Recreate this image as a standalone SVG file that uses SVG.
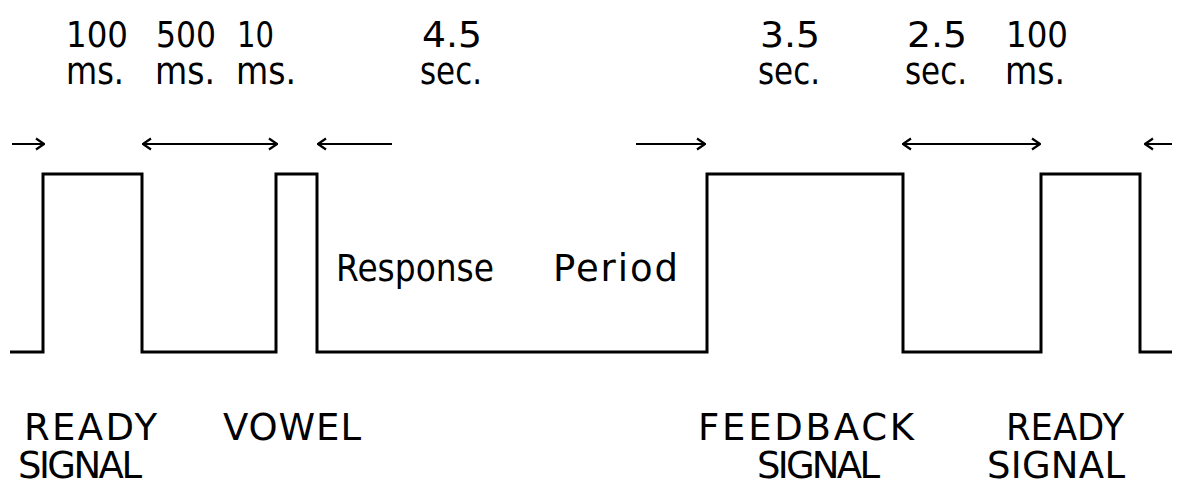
<svg xmlns="http://www.w3.org/2000/svg" width="1181" height="487" viewBox="0 0 1181 487">
<style>
text{font-family:"DejaVu Sans","Liberation Sans",sans-serif;fill:#000}
.d{font-size:36px}
.u{font-size:38px}
.c{font-size:37px}
.w{fill:none;stroke:#000;stroke-width:3;stroke-linejoin:miter}
.a{fill:none;stroke:#000;stroke-width:2}
</style>
<defs>
<marker id="h" viewBox="0 0 12 14" refX="11" refY="7" markerWidth="12" markerHeight="14" markerUnits="userSpaceOnUse" orient="auto-start-reverse">
<path d="M3,1.5 L11,7 L3,12.5" fill="none" stroke="#000" stroke-width="2.2"/>
</marker>
</defs>
<g id="durations">
<text class="d" x="66" y="47" textLength="62" lengthAdjust="spacingAndGlyphs">100</text>
<text class="u" x="66" y="84" textLength="58" lengthAdjust="spacingAndGlyphs">ms.</text>
<text class="d" x="156" y="47" textLength="60" lengthAdjust="spacingAndGlyphs">500</text>
<text class="u" x="155" y="84" textLength="60" lengthAdjust="spacingAndGlyphs">ms.</text>
<text class="d" x="237" y="47" textLength="37" lengthAdjust="spacingAndGlyphs">10</text>
<text class="u" x="236" y="84" textLength="60" lengthAdjust="spacingAndGlyphs">ms.</text>
<text class="d" x="422" y="47" textLength="60" lengthAdjust="spacingAndGlyphs">4.5</text>
<text class="u" x="420" y="84" textLength="62" lengthAdjust="spacingAndGlyphs">sec.</text>
<text class="d" x="760" y="47" textLength="60" lengthAdjust="spacingAndGlyphs">3.5</text>
<text class="u" x="758" y="84" textLength="62" lengthAdjust="spacingAndGlyphs">sec.</text>
<text class="d" x="907" y="47" textLength="60" lengthAdjust="spacingAndGlyphs">2.5</text>
<text class="u" x="905" y="84" textLength="62" lengthAdjust="spacingAndGlyphs">sec.</text>
<text class="d" x="1006" y="47" textLength="62" lengthAdjust="spacingAndGlyphs">100</text>
<text class="u" x="1005" y="84" textLength="60" lengthAdjust="spacingAndGlyphs">ms.</text>
</g>
<g id="connectors">
<line class="a" x1="12" y1="144" x2="44" y2="144" marker-end="url(#h)"/>
<line class="a" x1="143" y1="144" x2="277" y2="144" marker-start="url(#h)" marker-end="url(#h)"/>
<line class="a" x1="392" y1="144" x2="318" y2="144" marker-end="url(#h)"/>
<line class="a" x1="636" y1="144" x2="705" y2="144" marker-end="url(#h)"/>
<line class="a" x1="903" y1="144" x2="1040" y2="144" marker-start="url(#h)" marker-end="url(#h)"/>
<line class="a" x1="1172" y1="144" x2="1145" y2="144" marker-end="url(#h)"/>
</g>
<g id="waveform">
<polyline class="w" points="10,352 43,352 43,174 142,174 142,352 276,352 276,174 317,174 317,352 707,352 707,174 903,174 903,352 1041,352 1041,174 1140,174 1140,352 1172,352"/>
</g>
<g id="response-period"><text class="c" y="281"><tspan x="336" textLength="158" lengthAdjust="spacingAndGlyphs">Response</tspan><tspan x="553" textLength="125" lengthAdjust="spacing">Period</tspan></text></g>
<g id="ready-signal-1"><text class="c" x="24" y="440" textLength="133" lengthAdjust="spacing">READY</text><text class="c" x="18" y="478" textLength="124" lengthAdjust="spacing">SIGNAL</text></g>
<g id="vowel"><text class="c" x="223" y="440" textLength="138" lengthAdjust="spacing">VOWEL</text></g>
<g id="feedback-signal"><text class="c" x="698" y="440" textLength="216" lengthAdjust="spacing">FEEDBACK</text><text class="c" x="757" y="478" textLength="123" lengthAdjust="spacing">SIGNAL</text></g>
<g id="ready-signal-2"><text class="c" x="1006" y="440" textLength="118" lengthAdjust="spacingAndGlyphs">READY</text><text class="c" x="987" y="478" textLength="138" lengthAdjust="spacing">SIGNAL</text></g>
</svg>
